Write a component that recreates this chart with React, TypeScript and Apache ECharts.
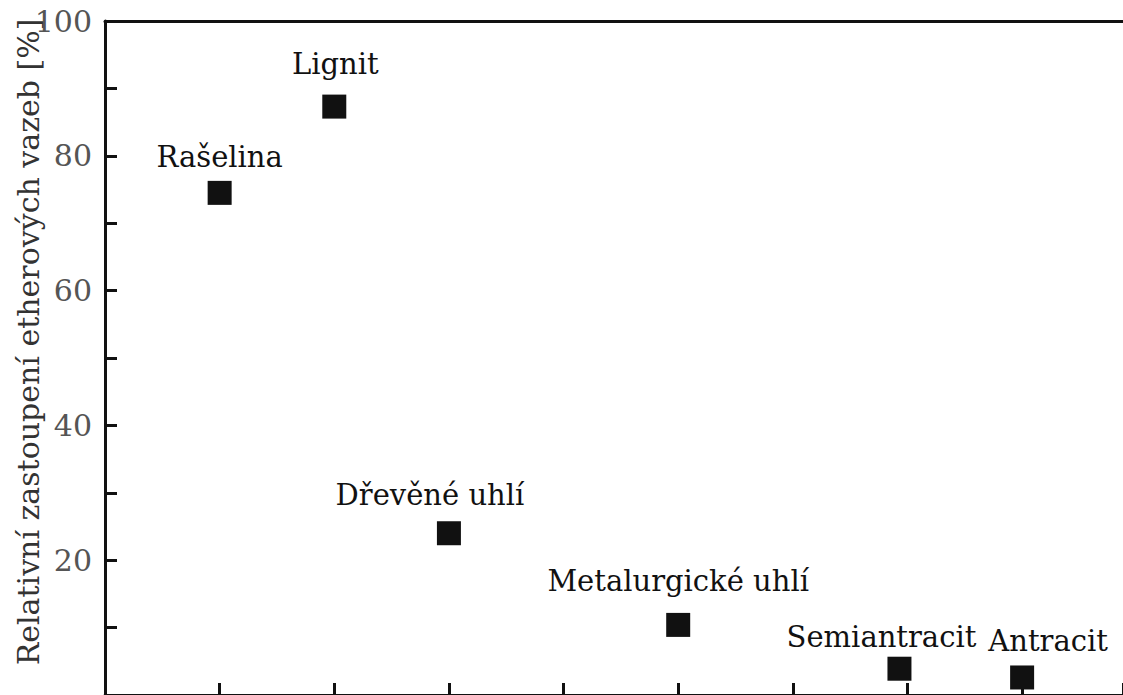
import React, { useEffect, useRef } from "react";
import * as echarts from "echarts";

const categories = ["Rašelina", "Lignit", "Dřevěné uhlí", "Metalurgické uhlí", "Semiantracit", "Antracit"];
const xPositions = [1, 2, 3, 5, 6.93, 8];
const values = [74.5, 87.3, 24.0, 10.4, 3.9, 2.6];
const yTickLabels = [20, 40, 60, 80, 100];
const yAxisName = "Relativní zastoupení etherových vazeb [%]";
const labelOffsets: [number, number][] = [[0, -36], [1, -43], [-19, -38], [0, -44], [-18, -32], [26, -36]];

const FONT = "DejaVu Serif";

export default function App() {
  const ref = useRef<HTMLDivElement>(null);
  useEffect(() => {
    if (!ref.current) return;
    const chart = echarts.init(ref.current, undefined, { renderer: "svg" });
    const data = categories.map((name, i) => ({
      name,
      value: [xPositions[i], values[i]],
      label: { offset: labelOffsets[i] },
    }));
    chart.setOption({
      animation: false,
      backgroundColor: "#fff",
      textStyle: { fontFamily: FONT },
      grid: { left: 105, top: 21, right: 0, bottom: -3 },
      xAxis: [
        {
          type: "value",
          min: 0,
          max: 8.88,
          interval: 1,
          position: "bottom",
          axisLine: { show: true, lineStyle: { color: "#111", width: 3 } },
          axisTick: { show: true, inside: true, length: 12, lineStyle: { color: "#111", width: 3 } },
          axisLabel: { show: false },
          splitLine: { show: false },
        },
        {
          type: "value",
          min: 0,
          max: 8.88,
          position: "top",
          axisLine: { show: true, lineStyle: { color: "#111", width: 3 } },
          axisTick: { show: false },
          axisLabel: { show: false },
          splitLine: { show: false },
        },
      ],
      yAxis: {
        type: "value",
        min: 0,
        max: 100,
        interval: 10,
        axisLine: { show: true, lineStyle: { color: "#111", width: 3 } },
        axisTick: { show: true, inside: true, length: 12, lineStyle: { color: "#111", width: 3 } },
        axisLabel: {
          margin: 13,
          color: "#555",
          fontFamily: FONT,
          fontSize: 30,
          formatter: (v: number) => (yTickLabels.includes(v) ? String(v) : ""),
        },
        splitLine: { show: false },
      },
      graphic: [
        {
          type: "text",
          x: 28,
          y: 342,
          rotation: Math.PI / 2,
          style: {
            text: yAxisName,
            fontFamily: FONT,
            fontSize: 30,
            fill: "#333",
            textAlign: "center",
            textVerticalAlign: "middle",
          },
        },
      ],
      series: [
        {
          type: "scatter",
          xAxisIndex: 0,
          symbol: "rect",
          symbolSize: 24,
          itemStyle: { color: "#111", opacity: 1 },
          label: {
            show: true,
            position: "inside",
            formatter: (p: any) => p.name,
            color: "#111",
            fontFamily: FONT,
            fontSize: 29,
          },
          data,
        },
      ],
    });
    return () => chart.dispose();
  }, []);
  return (
    <div
      ref={ref}
      style={{ position: "fixed", left: 0, top: 0, width: 1123, height: 695, background: "#fff" }}
    />
  );
}
